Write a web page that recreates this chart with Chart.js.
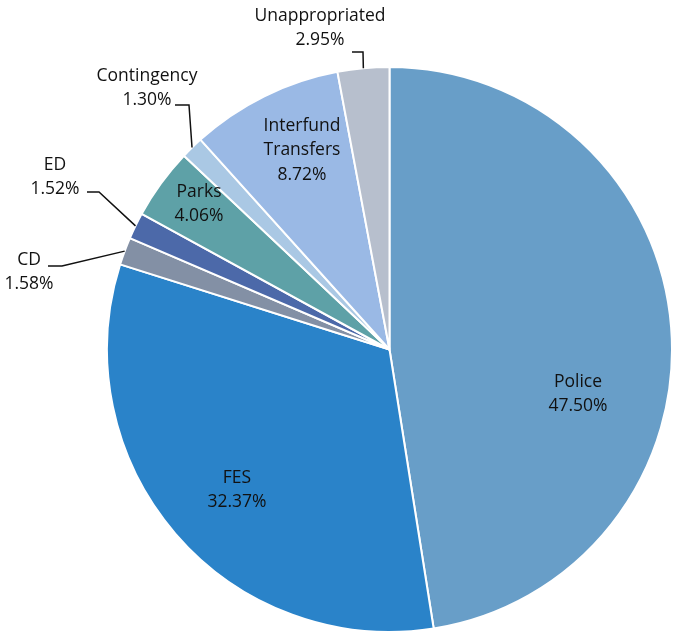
<!DOCTYPE html>
<html lang="en">
<head>
<meta charset="UTF-8">
<title>Budget pie</title>
<script src="https://cdn.jsdelivr.net/npm/chart.js@4/dist/chart.umd.min.js"></script>
<style>
  html, body { margin: 0; padding: 0; background: #fff; }
  .wrap { width: 674px; height: 633px; }
</style>
</head>
<body>
<div class="wrap"><canvas id="pie" width="674" height="633"></canvas></div>
<script>
// data
const categories = ['Police', 'FES', 'CD', 'ED', 'Parks', 'Contingency', 'Interfund Transfers', 'Unappropriated'];
const shares = [47.50, 32.37, 1.58, 1.52, 4.06, 1.30, 8.72, 2.95];
const colors = ['#689ec8', '#2a83c9', '#8390a5', '#4c69a9', '#5ea1a7', '#aac8e4', '#9ab9e5', '#b7bfcd'];

// label layout: text lines, centre x, first line y; outside labels get an elbow line
const labelLayout = [
  { lines: ['Police'], x: 578, y: 382 },
  { lines: ['FES'], x: 237, y: 478 },
  { lines: ['CD'], x: 29, y: 260, elbow: [62, 266], start: [48, 266] },
  { lines: ['ED'], x: 55, y: 165, elbow: [99, 192], start: [87, 192] },
  { lines: ['Parks'], x: 199, y: 192 },
  { lines: ['Contingency'], x: 147, y: 76, elbow: [189, 105], start: [175, 105] },
  { lines: ['Interfund', 'Transfers'], x: 302, y: 126 },
  { lines: ['Unappropriated'], x: 320, y: 16, elbow: [363, 52], start: [352, 52] }
];

const lineH = 24.5;

const pieLabels = {
  id: 'pieLabels',
  afterDatasetsDraw(chart) {
    const ctx = chart.ctx;
    const arcs = chart.getDatasetMeta(0).data;
    ctx.save();
    ctx.font = '17.5px "Open Sans", sans-serif';
    ctx.fillStyle = '#111';
    ctx.textAlign = 'center';
    ctx.textBaseline = 'middle';
    labelLayout.forEach((lab, i) => {
      const txt = lab.lines.concat([shares[i].toFixed(2) + '%']);
      txt.forEach((t, k) => ctx.fillText(t, lab.x, lab.y + k * lineH));
      if (lab.elbow) {
        const a = arcs[i];
        const mid = (a.startAngle + a.endAngle) / 2;
        const ex = a.x + Math.cos(mid) * a.outerRadius;
        const ey = a.y + Math.sin(mid) * a.outerRadius;
        ctx.beginPath();
        ctx.strokeStyle = '#111';
        ctx.lineWidth = 1.5;
        ctx.moveTo(lab.start[0], lab.start[1]);
        ctx.lineTo(lab.elbow[0], lab.elbow[1]);
        ctx.lineTo(ex, ey);
        ctx.stroke();
      }
    });
    ctx.restore();
  }
};

new Chart(document.getElementById('pie'), {
  type: 'pie',
  data: {
    labels: categories,
    datasets: [{
      data: shares,
      backgroundColor: colors,
      borderColor: '#ffffff',
      borderWidth: 2
    }]
  },
  options: {
    responsive: false,
    animation: false,
    layout: { padding: { left: 106, right: 1, top: 66, bottom: 0 } },
    plugins: {
      legend: { display: false },
      tooltip: { enabled: false }
    }
  },
  plugins: [pieLabels]
});
</script>
</body>
</html>
